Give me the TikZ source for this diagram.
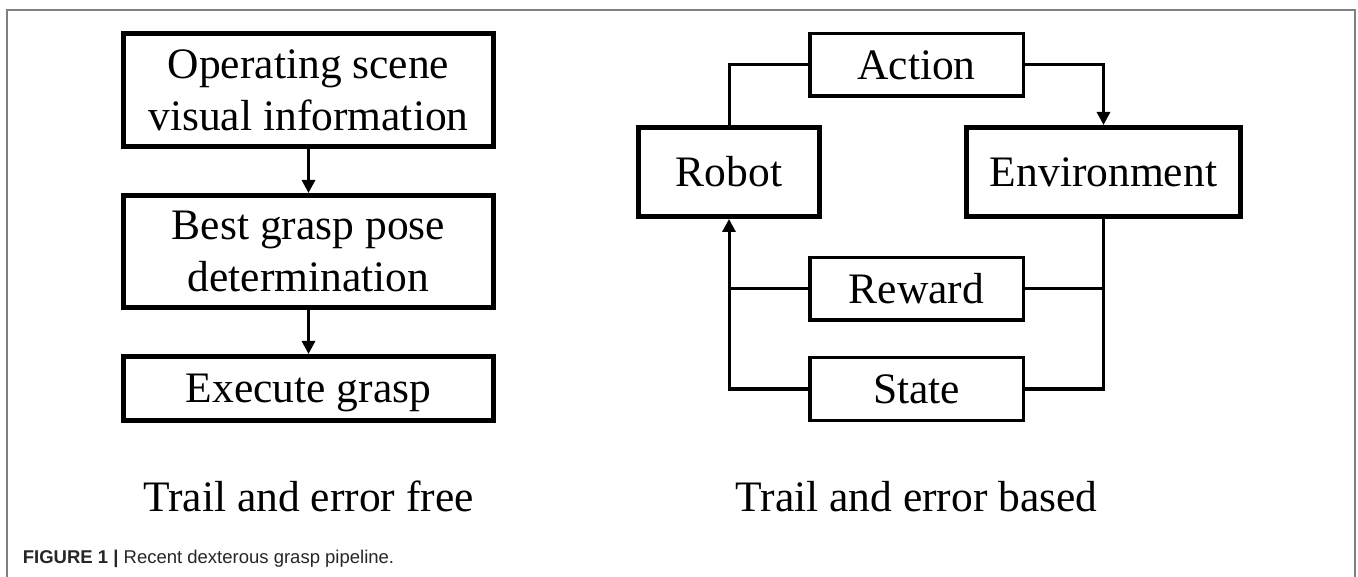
\documentclass[tikz,border=0pt]{standalone}
\usepackage{fontspec}
\setmainfont{Liberation Serif}
\newfontfamily\capfont{Liberation Sans}
\usetikzlibrary{arrows.meta}
\tikzset{
  boxfont/.style={font=\fontsize{43.5}{52}\selectfont},
  oneline/.style={text height=28.8pt, text depth=0pt},
  twoline/.style={text height=80.8pt, text depth=0pt},
  thickbox/.style={draw, line width=5pt, inner sep=0pt, align=center, boxfont},
  thinbox/.style={draw, line width=3.5pt, inner sep=0pt, align=center, boxfont},
  conn/.style={line width=3pt},
  arr/.style={conn, -{Triangle[length=13pt,width=13pt]}},
  title/.style={anchor=base, inner sep=0pt, boxfont},
  framestyle/.style={draw=black!50, line width=1.6pt}
}
\begin{document}
\begin{tikzpicture}[x=1pt,y=-1pt]
\useasboundingbox (0,0) rectangle (1358,577);
% frame
\coordinate (fbl) at (7,577);
\coordinate (ftl) at (7,10);
\coordinate (ftr) at (1355,10);
\coordinate (fbr) at (1355,577);
\draw[framestyle] (fbl) -- (ftl) -- (ftr) -- (fbr);

% left pipeline
\node[thickbox, twoline, minimum width=370pt, minimum height=113pt] (ops) at (308.5,90)
  {Operating scene\\visual information};
\node[thickbox, twoline, minimum width=370pt, minimum height=112pt] (best) at (308.5,251.5)
  {Best grasp pose\\determination};
\node[thickbox, oneline, minimum width=370pt, minimum height=64pt] (exe) at (308.5,388.5)
  {Execute grasp};
\draw[arr] (ops.south) -- (best.north);
\draw[arr] (best.south) -- (exe.north);

% right loop
\node[thickbox, oneline, minimum width=181pt, minimum height=89pt] (robot) at (729,172) {Robot};
\node[thickbox, oneline, minimum width=274pt, minimum height=89pt] (env) at (1103.5,172) {Environment};
\node[thinbox, oneline, minimum width=213.5pt, minimum height=62.5pt] (action) at (916.5,65) {Action};
\node[thinbox, oneline, minimum width=213.5pt, minimum height=62.5pt] (reward) at (916.5,289) {Reward};
\node[thinbox, oneline, minimum width=213.5pt, minimum height=62.5pt] (state) at (916.5,389) {State};

\draw[conn] (robot.north) |- (action.west);
\draw[arr] (action.east) -| (env.north);
\draw[conn] (env.south) |- (state.east);
\draw[conn] (reward.east) -- (reward.east -| env.south);
\draw[arr] (state.west) -| (robot.south);
\draw[conn] (reward.west) -- (reward.west -| robot.south);

% titles
\node[title] (tfree) at (308.5,511) {Trail and error free};
\node[title] (tbased) at (916.5,511) {Trail and error based};

% caption
\node[anchor=base west, inner sep=0pt, text=black!85,
  font=\capfont\fontsize{18.5}{22}\selectfont] (cap) at (22.7,563)
  {\textbf{FIGURE 1 |} Recent dexterous grasp pipeline.};
\end{tikzpicture}
\end{document}
